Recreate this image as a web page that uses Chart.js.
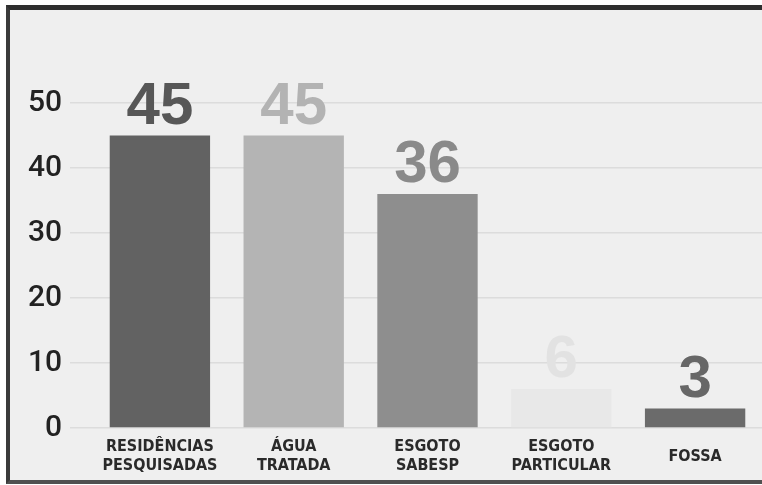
<!DOCTYPE html>
<html>
<head>
<meta charset="utf-8">
<script src="https://cdn.jsdelivr.net/npm/chart.js@4/dist/chart.umd.min.js"></script>
<style>
  body { margin: 0; background: #fff; }
  #frame {
    position: absolute;
    left: 6px;
    top: 5px;
    width: 756px;
    height: 470px;
    background: #efefef;
    border-top: 5px solid #2e2e2e;
    border-left: 4px solid #3a3a3a;
    border-bottom: 4px solid #505050;
  }
  #chart { display: block; }
</style>
</head>
<body>
<div id="frame">
  <canvas id="chart" width="752" height="470"></canvas>
</div>
<script>
const categories = [
  ["RESIDÊNCIAS", "PESQUISADAS"],
  ["ÁGUA", "TRATADA"],
  ["ESGOTO", "SABESP"],
  ["ESGOTO", "PARTICULAR"],
  "FOSSA"
];
const values = [45, 45, 36, 6, 3];
const yTicks = [0, 10, 20, 30, 40, 50];

const barColors = ["#626262", "#b4b4b4", "#8e8e8e", "#e8e8e8", "#6b6b6b"];
const numberColors = ["#575757", "#b3b3b3", "#8a8a8a", "#e2e2e2", "#676767"];

// big numbers sitting above each bar
const valueLabels = {
  id: "valueLabels",
  afterDatasetsDraw(chart) {
    const ctx = chart.ctx;
    const meta = chart.getDatasetMeta(0);
    ctx.save();
    ctx.font = "bold 60px 'Liberation Sans', Arial, sans-serif";
    ctx.textAlign = "center";
    ctx.textBaseline = "alphabetic";
    meta.data.forEach((bar, i) => {
      ctx.fillStyle = numberColors[i];
      ctx.fillText(String(values[i]), bar.x, bar.y - 12);
    });
    ctx.restore();
  }
};

new Chart(document.getElementById("chart"), {
  type: "bar",
  data: {
    labels: categories,
    datasets: [{
      data: values,
      backgroundColor: barColors,
      borderWidth: 0,
      barPercentage: 0.75,
      categoryPercentage: 1
    }]
  },
  options: {
    responsive: false,
    animation: false,
    devicePixelRatio: 1,
    layout: { padding: { top: 93, right: 0, bottom: 0, left: 0 } },
    plugins: {
      legend: { display: false },
      tooltip: { enabled: false },
      title: { display: false }
    },
    scales: {
      x: {
        grid: { display: false, drawTicks: false },
        border: { display: false },
        ticks: {
          color: "#2a2a2a",
          padding: 19,
          crossAlign: "center",
          maxRotation: 0,
          autoSkip: false,
          font: { family: "'Liberation Sans Narrow', 'DejaVu Sans Condensed', Arial", size: 16, weight: "bold", lineHeight: "19px" }
        },
        afterFit(scale) { scale.height = 52; }
      },
      y: {
        min: 0,
        max: 50,
        grid: { color: "#dcdcdc", lineWidth: 1.5, tickLength: 23 },
        border: { display: false },
        ticks: {
          stepSize: 5,
          padding: 8,
          color: "#222",
          font: { family: "Roboto, 'Liberation Sans', Arial, sans-serif", size: 30, weight: 500 },
          callback: (v) => (yTicks.includes(v) ? v : "")
        },
        afterFit(scale) { scale.width = 83; }
      }
    }
  },
  plugins: [valueLabels]
});
</script>
</body>
</html>
